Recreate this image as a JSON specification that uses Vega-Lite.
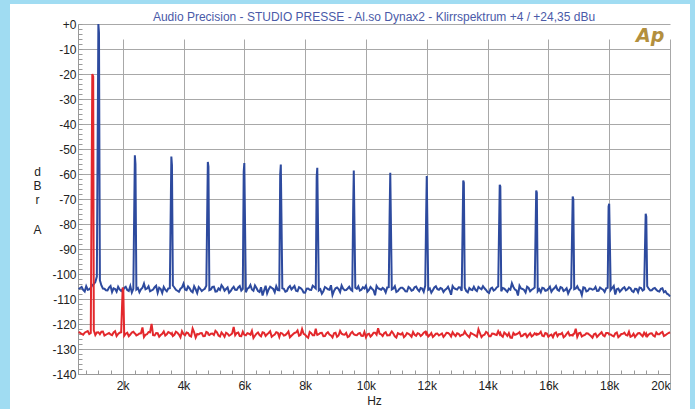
{
"$schema": "https://vega.github.io/schema/vega-lite/v6.json",
"width": 680,
"height": 405,
"autosize": {"type": "none"},
"padding": {"left": 10, "top": 4, "right": 5, "bottom": 0},
"background": "#a0dcf2",
"view": {"fill": "white", "stroke": null},
"config": {"font": "Liberation Sans"},
"title": {"text": "Audio Precision - STUDIO PRESSE - Al.so Dynax2 - Klirrspektrum +4 / +24,35 dBu", "fontSize": 12, "fontWeight": "normal", "color": "#4a5aa8", "font": "Liberation Sans", "anchor": "middle", "offset": -29, "baseline": "alphabetic", "dx": 24},
"data": {"values": [
{"f":550,"b":-106,"r":-123.2},{"f":650,"b":-105.2,"r":-124},{"f":750,"b":-107,"r":-123.5},{"f":850,"b":-106.3,"r":-122.8},{"f":950,"b":-105.5,"r":-123.6},
{"f":1000,"b":-104.5,"r":-20},{"f":1030,"b":-104.2,"r":-21},
{"f":1050,"b":-104,"r":-122.5},{"f":1150,"b":-101,"r":-123.4},
{"f":1200,"b":0,"r":-123.3},{"f":1220,"b":-3.5,"r":-123.6},
{"f":1250,"b":-102.5,"r":-124.1},{"f":1350,"b":-105.8,"r":-123},{"f":1450,"b":-106.5,"r":-124.3},
{"f":1550,"b":-105.4,"r":-123.6},{"f":1650,"b":-107.2,"r":-124.5},{"f":1750,"b":-106,"r":-122.9},{"f":1850,"b":-105.1,"r":-124},{"f":1950,"b":-106.8,"r":-123.3},
{"f":2000,"b":-106,"r":-105.4},{"f":2020,"b":-106.3,"r":-106.5},
{"f":2050,"b":-105.6,"r":-124.7},{"f":2150,"b":-106.4,"r":-123.5},{"f":2250,"b":-104.8,"r":-124.2},{"f":2350,"b":-105.9,"r":-123.1},
{"f":2400,"b":-52.5,"r":-123.8},{"f":2420,"b":-56,"r":-124},
{"f":2450,"b":-106.2,"r":-124.6},
{"f":2550,"b":-107.3,"r":-123.8},{"f":2650,"b":-105.5,"r":-121.4},{"f":2750,"b":-106.1,"r":-124.3},{"f":2850,"b":-104.9,"r":-123.2},{"f":2950,"b":-106.6,"r":-120},{"f":3050,"b":-105.3,"r":-124.6},{"f":3150,"b":-107.5,"r":-123.7},{"f":3250,"b":-106,"r":-124.4},{"f":3350,"b":-105.2,"r":-123},{"f":3450,"b":-106.9,"r":-124.1},
{"f":3550,"b":-105.7,"r":-123.5},
{"f":3600,"b":-53,"r":-124.1},{"f":3620,"b":-56.5,"r":-123.7},
{"f":3650,"b":-104.6,"r":-124.8},{"f":3750,"b":-106.3,"r":-123.1},{"f":3850,"b":-107.1,"r":-124.2},{"f":3950,"b":-105.4,"r":-122.9},{"f":4050,"b":-106.2,"r":-124.5},{"f":4150,"b":-105,"r":-123.6},{"f":4250,"b":-106.8,"r":-125},{"f":4350,"b":-104.9,"r":-123.3},{"f":4450,"b":-107.6,"r":-124},
{"f":4550,"b":-105.9,"r":-123.7},{"f":4650,"b":-106.3,"r":-124.9},{"f":4750,"b":-104.7,"r":-123.2},
{"f":4800,"b":-55.2,"r":-123.5},{"f":4820,"b":-57,"r":-124.2},
{"f":4850,"b":-106.5,"r":-124.4},{"f":4950,"b":-105.2,"r":-123.8},{"f":5050,"b":-107,"r":-122.7},{"f":5150,"b":-105.8,"r":-124.6},{"f":5250,"b":-104.5,"r":-123.4},{"f":5350,"b":-106.7,"r":-125.1},{"f":5450,"b":-105.4,"r":-123.9},
{"f":5550,"b":-106.9,"r":-124.3},{"f":5650,"b":-105.1,"r":-121.2},{"f":5750,"b":-106.4,"r":-123.6},{"f":5850,"b":-104.8,"r":-124.8},{"f":5950,"b":-105.9,"r":-123.1},
{"f":5980,"b":-59,"r":-123.9},{"f":6000,"b":-55.6,"r":-124.3},
{"f":6050,"b":-107.3,"r":-124.5},{"f":6150,"b":-105.5,"r":-123.9},{"f":6250,"b":-106.2,"r":-122.8},{"f":6350,"b":-104.6,"r":-124.7},{"f":6450,"b":-106.8,"r":-123.4},
{"f":6550,"b":-105.3,"r":-124.9},{"f":6650,"b":-106.6,"r":-123.5},{"f":6750,"b":-107.8,"r":-124.1},{"f":6850,"b":-105.1,"r":-122.9},{"f":6950,"b":-106,"r":-124.6},{"f":7050,"b":-104.9,"r":-123.3},{"f":7150,"b":-106.5,"r":-125.2},
{"f":7180,"b":-60,"r":-124},{"f":7200,"b":-56.2,"r":-123.6},
{"f":7250,"b":-105.7,"r":-123.8},{"f":7350,"b":-107.1,"r":-124.4},{"f":7450,"b":-105.4,"r":-123},
{"f":7550,"b":-106.2,"r":-124.7},{"f":7650,"b":-104.8,"r":-123.6},{"f":7750,"b":-106.9,"r":-122.6},{"f":7850,"b":-105.6,"r":-124.3},{"f":7950,"b":-107.4,"r":-123.9},{"f":8050,"b":-105.9,"r":-125},{"f":8150,"b":-106.3,"r":-123.2},{"f":8250,"b":-104.7,"r":-124.5},{"f":8350,"b":-105.8,"r":-121.9},
{"f":8380,"b":-61,"r":-123.8},{"f":8400,"b":-57.5,"r":-124.4},
{"f":8450,"b":-106.6,"r":-124.1},
{"f":8550,"b":-107.9,"r":-123.5},{"f":8650,"b":-105.2,"r":-124.8},{"f":8750,"b":-106.1,"r":-123.3},{"f":8850,"b":-104.5,"r":-124.6},{"f":8950,"b":-106.8,"r":-123.7},{"f":9050,"b":-105.4,"r":-125.1},{"f":9150,"b":-107.2,"r":-122.8},{"f":9250,"b":-105.9,"r":-124.2},{"f":9350,"b":-106.4,"r":-123.6},{"f":9450,"b":-105.1,"r":-124.9},
{"f":9550,"b":-106.7,"r":-123.1},
{"f":9580,"b":-73.8,"r":-123.7},{"f":9600,"b":-58.6,"r":-124.1},
{"f":9650,"b":-105.5,"r":-124.4},{"f":9750,"b":-104.9,"r":-123.8},{"f":9850,"b":-106.3,"r":-124.7},{"f":9950,"b":-105.8,"r":-123.2},{"f":10050,"b":-107.1,"r":-124.1},{"f":10150,"b":-105.2,"r":-125},{"f":10250,"b":-106.5,"r":-123.5},{"f":10350,"b":-104.8,"r":-124.3},{"f":10450,"b":-106,"r":-123.9},
{"f":10550,"b":-105.6,"r":-124.8},{"f":10650,"b":-107.4,"r":-123.3},{"f":10750,"b":-105.3,"r":-124.5},
{"f":10780,"b":-75.3,"r":-124.5},{"f":10800,"b":-59.5,"r":-123.9},
{"f":10850,"b":-106.2,"r":-123},{"f":10950,"b":-104.9,"r":-124.9},{"f":11050,"b":-106.8,"r":-123.7},{"f":11150,"b":-105.5,"r":-124.2},{"f":11250,"b":-106.1,"r":-125.3},{"f":11350,"b":-107,"r":-123.6},{"f":11450,"b":-105.7,"r":-124.4},
{"f":11550,"b":-106.4,"r":-123.2},{"f":11650,"b":-105,"r":-124.7},{"f":11750,"b":-106.9,"r":-123.9},{"f":11850,"b":-105.8,"r":-124.3},{"f":11950,"b":-104.6,"r":-123.1},
{"f":11980,"b":-76.6,"r":-124},{"f":12000,"b":-60.8,"r":-123.5},
{"f":12050,"b":-106.3,"r":-125},{"f":12150,"b":-107.5,"r":-123.6},{"f":12250,"b":-105.4,"r":-124.6},{"f":12350,"b":-106.1,"r":-123.8},{"f":12450,"b":-105.6,"r":-124.2},
{"f":12550,"b":-107.2,"r":-125.2},{"f":12650,"b":-105.9,"r":-123.5},{"f":12750,"b":-106.5,"r":-124.1},{"f":12850,"b":-104.8,"r":-123.3},{"f":12950,"b":-106,"r":-124.8},{"f":13050,"b":-105.3,"r":-123.9},{"f":13150,"b":-106.7,"r":-124.4},
{"f":13200,"b":-62.6,"r":-124.2},{"f":13220,"b":-63.5,"r":-123.8},
{"f":13250,"b":-105.5,"r":-123},{"f":13350,"b":-107.3,"r":-124.7},{"f":13450,"b":-106.2,"r":-123.6},
{"f":13550,"b":-105.1,"r":-124.3},{"f":13650,"b":-106.8,"r":-125.1},{"f":13750,"b":-105.7,"r":-123.7},{"f":13850,"b":-104.9,"r":-124.5},{"f":13950,"b":-106.4,"r":-123.2},{"f":14050,"b":-107.6,"r":-124.9},{"f":14150,"b":-105.5,"r":-123.8},{"f":14250,"b":-106.2,"r":-124.2},{"f":14350,"b":-105,"r":-122.9},
{"f":14400,"b":-64.3,"r":-124.1},{"f":14420,"b":-65,"r":-123.6},
{"f":14450,"b":-106.9,"r":-124.6},
{"f":14550,"b":-105.8,"r":-123.4},{"f":14650,"b":-107.1,"r":-124.8},{"f":14750,"b":-106.3,"r":-125.4},{"f":14850,"b":-105.2,"r":-123.6},{"f":14950,"b":-106.6,"r":-124.1},{"f":15050,"b":-104.7,"r":-123.3},{"f":15150,"b":-106,"r":-124.7},{"f":15250,"b":-107.4,"r":-123.9},{"f":15350,"b":-105.6,"r":-124.4},{"f":15450,"b":-106.3,"r":-125},
{"f":15550,"b":-105.4,"r":-123.7},
{"f":15600,"b":-66.6,"r":-124.3},{"f":15620,"b":-67.5,"r":-123.9},
{"f":15650,"b":-106.9,"r":-124.2},{"f":15750,"b":-107.3,"r":-123.1},{"f":15850,"b":-105.7,"r":-124.9},{"f":15950,"b":-106.5,"r":-123.8},{"f":16050,"b":-105.1,"r":-124.5},{"f":16150,"b":-106.2,"r":-125.3},{"f":16250,"b":-104.8,"r":-123.4},{"f":16350,"b":-106.7,"r":-124},{"f":16450,"b":-105.5,"r":-123.6},
{"f":16550,"b":-106.4,"r":-124.8},{"f":16650,"b":-107.8,"r":-123.2},{"f":16750,"b":-105.6,"r":-124.4},
{"f":16800,"b":-69,"r":-124.6},{"f":16820,"b":-70,"r":-124},
{"f":16850,"b":-106.1,"r":-123.9},{"f":16950,"b":-104.9,"r":-125.1},{"f":17050,"b":-106.6,"r":-123.5},{"f":17150,"b":-105.3,"r":-124.6},{"f":17250,"b":-107,"r":-123.7},{"f":17350,"b":-105.8,"r":-124.3},{"f":17450,"b":-106.3,"r":-125.5},
{"f":17550,"b":-105.2,"r":-123.8},{"f":17650,"b":-106.7,"r":-124.5},{"f":17750,"b":-105.9,"r":-123.3},{"f":17850,"b":-107.2,"r":-124.9},{"f":17950,"b":-105.5,"r":-123.6},
{"f":17980,"b":-73,"r":-123.7},{"f":18000,"b":-71.9,"r":-124.2},
{"f":18050,"b":-106.4,"r":-124.2},{"f":18150,"b":-104.8,"r":-125},{"f":18250,"b":-106.1,"r":-123.4},{"f":18350,"b":-107.1,"r":-124.7},{"f":18450,"b":-105.7,"r":-123.9},
{"f":18550,"b":-106.5,"r":-124.4},{"f":18650,"b":-105.3,"r":-123.1},{"f":18750,"b":-106.8,"r":-124.8},{"f":18850,"b":-105.9,"r":-125.2},{"f":18950,"b":-107.3,"r":-123.7},{"f":19050,"b":-105.6,"r":-124.3},{"f":19150,"b":-106.2,"r":-123.5},
{"f":19200,"b":-75.9,"r":-124.5},{"f":19220,"b":-77,"r":-123.9},
{"f":19250,"b":-104.9,"r":-124.9},{"f":19350,"b":-106.6,"r":-123.8},{"f":19450,"b":-105.8,"r":-124.6},
{"f":19550,"b":-106.3,"r":-123.4},{"f":19650,"b":-107,"r":-124.1},{"f":19750,"b":-105.7,"r":-123.2},{"f":19850,"b":-106.9,"r":-124.5},{"f":19950,"b":-108.2,"r":-123.6},{"f":20000,"b":-109,"r":-123.3},
{"f":600,"b":-105.6,"r":-123.5},{"f":700,"b":-106.4,"r":-124.3},{"f":800,"b":-104.9,"r":-123.1},{"f":900,"b":-106.1,"r":-124},{"f":1100,"b":-103.2,"r":-124.4},{"f":1300,"b":-104.6,"r":-123.1},{"f":1400,"b":-105.9,"r":-124.6},{"f":1500,"b":-106.6,"r":-123.9},
{"f":1600,"b":-104.8,"r":-124.2},{"f":1700,"b":-105.7,"r":-123.4},{"f":1800,"b":-107.1,"r":-124.8},{"f":1900,"b":-106.2,"r":-123.5},{"f":2100,"b":-105.1,"r":-123.9},{"f":2200,"b":-106.8,"r":-124.9},{"f":2300,"b":-107.4,"r":-123.4},{"f":2500,"b":-105.6,"r":-124.3},
{"f":2600,"b":-106.1,"r":-123.7},{"f":2700,"b":-103.8,"r":-125.2},{"f":2800,"b":-105.8,"r":-124.1},{"f":2900,"b":-106.9,"r":-123.3},{"f":3000,"b":-106.2,"r":-124.5},{"f":3100,"b":-104.7,"r":-123.6},{"f":3200,"b":-105.5,"r":-125.1},{"f":3300,"b":-107.6,"r":-123.9},{"f":3400,"b":-106.3,"r":-124.6},{"f":3500,"b":-105.8,"r":-123.2},
{"f":3700,"b":-105.4,"r":-124.3},{"f":3800,"b":-106.7,"r":-123.5},{"f":3900,"b":-105.9,"r":-125.3},{"f":4000,"b":-103.9,"r":-124},{"f":4100,"b":-106.5,"r":-123.4},{"f":4200,"b":-105.7,"r":-124.7},{"f":4300,"b":-107.3,"r":-121.8},{"f":4400,"b":-106.1,"r":-125.4},{"f":4500,"b":-105.2,"r":-124.2},
{"f":4600,"b":-106.8,"r":-123.6},{"f":4700,"b":-105.9,"r":-124.8},{"f":4900,"b":-106.2,"r":-123.9},{"f":5000,"b":-105.1,"r":-124.4},{"f":5100,"b":-106.9,"r":-123.3},{"f":5200,"b":-106.4,"r":-125},{"f":5300,"b":-105.3,"r":-124.1},{"f":5400,"b":-106,"r":-123.5},{"f":5500,"b":-107.5,"r":-124.7},
{"f":5600,"b":-105.8,"r":-123.8},{"f":5700,"b":-106.3,"r":-124.5},{"f":5800,"b":-105.4,"r":-123.4},{"f":5900,"b":-106.6,"r":-124.9},{"f":6100,"b":-105.9,"r":-123.7},{"f":6200,"b":-104.4,"r":-124.3},{"f":6300,"b":-106.7,"r":-125.6},{"f":6400,"b":-105.6,"r":-123.9},{"f":6500,"b":-107.2,"r":-124.4},
{"f":6600,"b":-108.6,"r":-123.3},{"f":6700,"b":-104.7,"r":-124.8},{"f":6800,"b":-106.2,"r":-123.6},{"f":6900,"b":-105.5,"r":-125.1},{"f":7000,"b":-107.3,"r":-124.2},{"f":7100,"b":-106.4,"r":-123.5},{"f":7300,"b":-105.9,"r":-124.6},{"f":7400,"b":-106.8,"r":-123.8},{"f":7500,"b":-104.8,"r":-125.3},
{"f":7600,"b":-105.5,"r":-124.1},{"f":7700,"b":-106.7,"r":-123.4},{"f":7800,"b":-105.3,"r":-124.7},{"f":7900,"b":-106.2,"r":-122},{"f":8000,"b":-107.5,"r":-124.3},{"f":8100,"b":-105.8,"r":-125.5},{"f":8200,"b":-106.4,"r":-123.7},{"f":8300,"b":-105.2,"r":-124.5},{"f":8500,"b":-106.1,"r":-123.6},
{"f":8600,"b":-106.9,"r":-124.9},{"f":8700,"b":-105.6,"r":-123.8},{"f":8800,"b":-106.3,"r":-124.2},{"f":8900,"b":-108.4,"r":-125.4},{"f":9000,"b":-105.7,"r":-123.5},{"f":9100,"b":-106,"r":-124.6},{"f":9200,"b":-104.6,"r":-123.9},{"f":9300,"b":-106.5,"r":-124.3},{"f":9400,"b":-105.8,"r":-125.2},{"f":9500,"b":-106.2,"r":-123.7},
{"f":9700,"b":-105.9,"r":-124.5},{"f":9800,"b":-106.6,"r":-123.6},{"f":9900,"b":-105.3,"r":-124.8},{"f":10000,"b":-104.7,"r":-125.3},{"f":10100,"b":-106.4,"r":-123.9},{"f":10200,"b":-105.9,"r":-124.4},{"f":10300,"b":-108.5,"r":-123.5},{"f":10400,"b":-105.7,"r":-121.7},{"f":10500,"b":-106.3,"r":-124.1},
{"f":10600,"b":-106.1,"r":-123.7},{"f":10700,"b":-105.4,"r":-124.6},{"f":10900,"b":-105.8,"r":-123.8},{"f":11000,"b":-107.2,"r":-125.4},{"f":11100,"b":-106,"r":-124},{"f":11200,"b":-105.5,"r":-123.6},{"f":11300,"b":-106.9,"r":-124.7},{"f":11400,"b":-105.2,"r":-123.9},{"f":11500,"b":-106.7,"r":-125.1},
{"f":11600,"b":-105.3,"r":-124.3},{"f":11700,"b":-106.2,"r":-123.7},{"f":11800,"b":-105.6,"r":-124.8},{"f":11900,"b":-107.1,"r":-123.5},{"f":12100,"b":-105.8,"r":-124.4},{"f":12200,"b":-106.5,"r":-125.2},{"f":12300,"b":-104.9,"r":-123.9},{"f":12400,"b":-106.3,"r":-124.6},{"f":12500,"b":-105.9,"r":-123.8},
{"f":12600,"b":-106.4,"r":-124.5},{"f":12700,"b":-105.1,"r":-123.6},{"f":12800,"b":-108.3,"r":-125},{"f":12900,"b":-105.7,"r":-124.2},{"f":13000,"b":-106.2,"r":-123.7},{"f":13100,"b":-105.4,"r":-124.8},{"f":13300,"b":-106.8,"r":-124.1},{"f":13400,"b":-105.6,"r":-125.3},{"f":13500,"b":-106.4,"r":-123.9},
{"f":13600,"b":-106.3,"r":-124.6},{"f":13700,"b":-105.2,"r":-122.1},{"f":13800,"b":-106.1,"r":-125.2},{"f":13900,"b":-105.7,"r":-124.3},{"f":14000,"b":-107.2,"r":-123.6},{"f":14100,"b":-105.9,"r":-124.9},{"f":14200,"b":-106.6,"r":-123.9},{"f":14300,"b":-105.4,"r":-124.4},{"f":14500,"b":-105.6,"r":-125.1},
{"f":14600,"b":-106.5,"r":-124},{"f":14700,"b":-105.9,"r":-123.7},{"f":14800,"b":-103.7,"r":-125.5},{"f":14900,"b":-106.2,"r":-124.3},{"f":15000,"b":-108.6,"r":-123.8},{"f":15100,"b":-105.8,"r":-124.9},{"f":15200,"b":-106.4,"r":-124.1},{"f":15300,"b":-105.1,"r":-125.2},{"f":15400,"b":-106.9,"r":-123.7},{"f":15500,"b":-105.9,"r":-124.5},
{"f":15700,"b":-106.1,"r":-123.9},{"f":15800,"b":-105.5,"r":-124.7},{"f":15900,"b":-106.7,"r":-123.6},{"f":16000,"b":-105.9,"r":-125.1},{"f":16100,"b":-107.1,"r":-124.2},{"f":16200,"b":-105.6,"r":-123.8},{"f":16300,"b":-106.3,"r":-124.9},{"f":16400,"b":-105.2,"r":-124.1},{"f":16500,"b":-106.8,"r":-125.3},
{"f":16600,"b":-105.7,"r":-123.9},{"f":16700,"b":-106.4,"r":-124.6},{"f":16900,"b":-105.8,"r":-121.9},{"f":17000,"b":-106.2,"r":-123.7},{"f":17100,"b":-108.4,"r":-125},{"f":17200,"b":-105.5,"r":-124.4},{"f":17300,"b":-106.7,"r":-123.8},{"f":17400,"b":-105.9,"r":-124.8},{"f":17500,"b":-106.1,"r":-124.1},
{"f":17600,"b":-106.8,"r":-125.2},{"f":17700,"b":-105.4,"r":-123.9},{"f":17800,"b":-106.3,"r":-124.5},{"f":17900,"b":-105.7,"r":-123.6},{"f":18100,"b":-105.6,"r":-124.7},{"f":18200,"b":-108.2,"r":-123.8},{"f":18300,"b":-105.8,"r":-125.3},{"f":18400,"b":-106.4,"r":-124},{"f":18500,"b":-105.3,"r":-123.5},
{"f":18600,"b":-106.1,"r":-124.6},{"f":18700,"b":-105.7,"r":-125.1},{"f":18800,"b":-107.2,"r":-123.9},{"f":18900,"b":-106,"r":-124.4},{"f":19000,"b":-105.4,"r":-123.6},{"f":19100,"b":-106.6,"r":-124.9},{"f":19300,"b":-105.9,"r":-124.2},{"f":19400,"b":-106.5,"r":-123.7},{"f":19500,"b":-105.6,"r":-125},
{"f":19600,"b":-106.8,"r":-124.1},{"f":19700,"b":-105.9,"r":-123.5},{"f":19800,"b":-107.3,"r":-124.8},{"f":19900,"b":-107.9,"r":-124}
]},
"layer": [
{
"mark": {"type": "line", "color": "#2d4a9e", "strokeWidth": 2},
"encoding": {
"x": {"field": "f", "type": "quantitative",
"scale": {"domain": [530, 20000], "range": [68, 660], "nice": false, "zero": false},
"axis": {"orient": "bottom", "offset": -35, "values": [2000,4000,6000,8000,10000,12000,14000,16000,18000,20000],
"labelExpr": "(datum.value/1000) + 'k'", "grid": true, "gridColor": "#a8a8a8", "gridWidth": 1, "ticks": false,
"domain": true, "domainColor": "#999999", "domainWidth": 1, "labelFontSize": 12, "labelColor": "#222222", "labelPadding": 6, "labelFont": "Liberation Sans",
"labelAlign": {"condition": {"test": "datum.value == 20000", "value": "right"}, "value": "center"},
"title": "Hz", "titleFontSize": 12, "titleFontWeight": "normal", "titleColor": "#222222", "titlePadding": 4, "titleFont": "Liberation Sans"}},
"y": {"field": "b", "type": "quantitative",
"scale": {"domain": [-140, 0], "range": [370, 20], "nice": false, "zero": false},
"axis": {"orient": "left", "offset": -68, "values": [-140,-130,-120,-110,-100,-90,-80,-70,-60,-50,-40,-30,-20,-10,0],
"labelExpr": "datum.value == 0 ? '+0' : '-' + abs(datum.value)", "grid": true, "gridColor": "#a8a8a8", "gridWidth": 1, "ticks": false,
"domain": true, "domainColor": "#999999", "domainWidth": 1, "labelFontSize": 12, "labelColor": "#222222", "labelPadding": 2, "labelFont": "Liberation Sans",
"title": ["d", "B", "r"], "titleAngle": 0, "titleFontSize": 12, "titleFontWeight": "normal", "titleColor": "#222222", "titleLineHeight": 14.2,
"titleAlign": "center", "titleBaseline": "top", "titleX": -41, "titleY": 162, "titleFont": "Liberation Sans"}}
}
},
{
"mark": {"type": "line", "color": "#e3282c", "strokeWidth": 2},
"encoding": {
"x": {"field": "f", "type": "quantitative",
"axis": {"orient": "top", "offset": -370, "values": [800,1200,1600,2000,2400,2800,3200,3600,4000,4400,4800,5200,5600,6000,6400,6800,7200,7600,8000,8400,8800,9200,9600,10000,10400,10800,11200,11600,12000,12400,12800,13200,13600,14000,14400,14800,15200,15600,16000,16400,16800,17200,17600,18000,18400,18800,19200,19600],
"labels": false, "grid": false, "domain": false, "ticks": true, "tickSize": 4, "tickColor": "#999999", "title": null}},
"y": {"field": "r", "type": "quantitative",
"axis": {"orient": "right", "offset": -612, "values": [-140,-138,-136,-134,-132,-130,-128,-126,-124,-122,-120,-118,-116,-114,-112,-110,-108,-106,-104,-102,-100,-98,-96,-94,-92,-90,-88,-86,-84,-82,-80,-78,-76,-74,-72,-70,-68,-66,-64,-62,-60,-58,-56,-54,-52,-50,-48,-46,-44,-42,-40,-38,-36,-34,-32,-30,-28,-26,-24,-22,-20,-18,-16,-14,-12,-10,-8,-6,-4,-2,0],
"labels": false, "grid": false, "domain": false, "ticks": true, "tickSize": 4, "tickColor": "#999999",
"title": "A", "titleAngle": 0, "titleFontSize": 12, "titleFontWeight": "normal", "titleColor": "#222222", "titleAlign": "center", "titleBaseline": "middle", "titleX": -41, "titleY": 225, "titleFont": "Liberation Sans"}}
}
},
{
"data": {"values": [{}]},
"mark": {"type": "text", "text": "Ap", "fontSize": 19, "fontStyle": "italic", "fontWeight": "bold", "color": "#b38f3e", "font": "DejaVu Sans"},
"encoding": {
"x": {"datum": 19350, "type": "quantitative", "axis": null},
"y": {"datum": -4.8, "type": "quantitative", "axis": null}
}
}
],
"resolve": {"axis": {"x": "independent", "y": "independent"}}
}
